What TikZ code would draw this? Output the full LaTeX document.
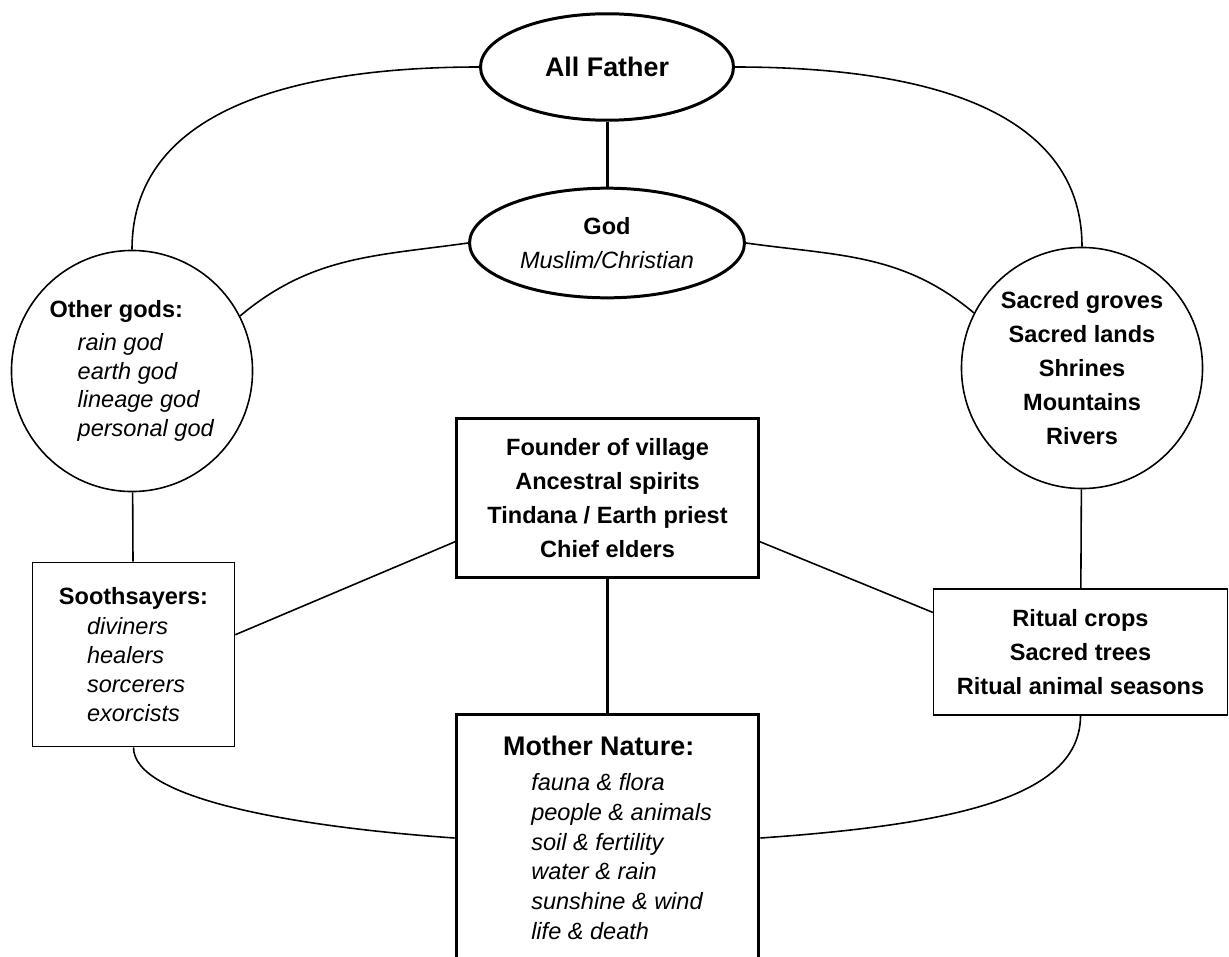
\documentclass[tikz,border=0pt]{standalone}
\usepackage{fontspec}
\setmainfont{Liberation Sans}
\usetikzlibrary{shapes.geometric}
\newcommand{\ind}{\hspace*{16pt}}

\begin{document}
\begin{tikzpicture}[
  x=0.02cm, y=0.02cm,
  every node/.style={inner sep=0pt},
  bigoval/.style={draw,ellipse,line width=1.7pt,fill=white},
  bigcirc/.style={draw,circle,line width=0.9pt,minimum size=137.2pt,fill=white},
  thinbox/.style={draw,rectangle,line width=0.9pt,fill=white},
  thickbox/.style={draw,rectangle,line width=1.7pt,fill=white},
  link/.style={line width=0.9pt},
  strong/.style={line width=1.7pt},
  heads/.style={font=\fontsize{13.4}{19.3}\selectfont\bfseries,align=center},
  lists/.style={font=\fontsize{13.4}{16.4}\selectfont,align=left}
]
\useasboundingbox (0,0) rectangle (1229,-956);

% Supreme beings
\node[bigoval,minimum width=144pt,minimum height=60.6pt,
  font=\fontsize{15.3}{18}\selectfont\bfseries] (AllF) at (607,-67) {All Father};
\node[bigoval,minimum width=156.5pt,minimum height=62.4pt,
  font=\fontsize{13.4}{19.8}\selectfont,align=center] (God) at (607,-243)
  {\textbf{God}\\\textit{Muslim/Christian}};

% Lesser powers
\node[bigcirc,lists] (Other) at (132,-371)
  {\textbf{Other gods:}\\[2.3pt]
   \ind\textit{rain god}\\
   \ind\textit{earth god}\\
   \ind\textit{lineage god}\\
   \ind\textit{personal god}};
\node[bigcirc,heads] (Sacred) at (1082,-368)
  {Sacred groves\\Sacred lands\\Shrines\\Mountains\\Rivers};

% Middle row
\node[thinbox,lists,minimum width=115pt,minimum height=104.9pt] (Sooth) at (133.5,-654.5)
  {\textbf{Soothsayers:}\\[1pt]
   \ind\textit{diviners}\\
   \ind\textit{healers}\\
   \ind\textit{sorcerers}\\
   \ind\textit{exorcists}};
\node[thickbox,heads,minimum width=171.8pt,minimum height=90.7pt] (Founder) at (607.5,-498)
  {Founder of village\\Ancestral spirits\\Tindana / Earth priest\\Chief elders};
\node[thinbox,heads,minimum width=167.2pt,minimum height=71.4pt] (Ritual) at (1080.5,-652)
  {Ritual crops\\Sacred trees\\Ritual animal seasons};

% Mother Nature (runs off the page)
\node[thickbox,minimum width=172.4pt,minimum height=140.6pt,anchor=north,
  font=\fontsize{13.4}{17}\selectfont,align=left] (Mother) at (607.5,-713)
  {{\fontsize{15.3}{17}\selectfont\bfseries Mother Nature:}\\[2.8pt]
   \ind\textit{fauna \& flora}\\
   \ind\textit{people \& animals}\\
   \ind\textit{soil \& fertility}\\
   \ind\textit{water \& rain}\\
   \ind\textit{sunshine \& wind}\\
   \ind\textit{life \& death}};

% Arcs round the top
\draw[link] (AllF) to[out=180,in=90] (Other);
\draw[link] (AllF) to[out=0,in=90] (Sacred);
\draw[link] (God.west) to[out=188,in=40] (Other.27);
\draw[link] (God.east) to[out=-8,in=140] (Sacred.153);

% Vertical links
\draw[strong] (AllF) -- (God);
\draw[strong] (Founder) -- (Mother);
\draw[link] (Other) -- (Sooth);
\draw[link] (Sacred) -- (Ritual);

% Links to the founder
\draw[link] (Sooth.11) -- (Founder.196);
\draw[link] (Founder.-16) -- (Ritual.165);

% Arcs round the bottom
\draw[link] (Sooth.south) to[out=-90,in=176,out looseness=0.4,in looseness=1.2] (Mother.west);
\draw[link] (Ritual.south) to[out=-90,in=4,out looseness=0.6,in looseness=1.5] (Mother.east);

\end{tikzpicture}
\end{document}
